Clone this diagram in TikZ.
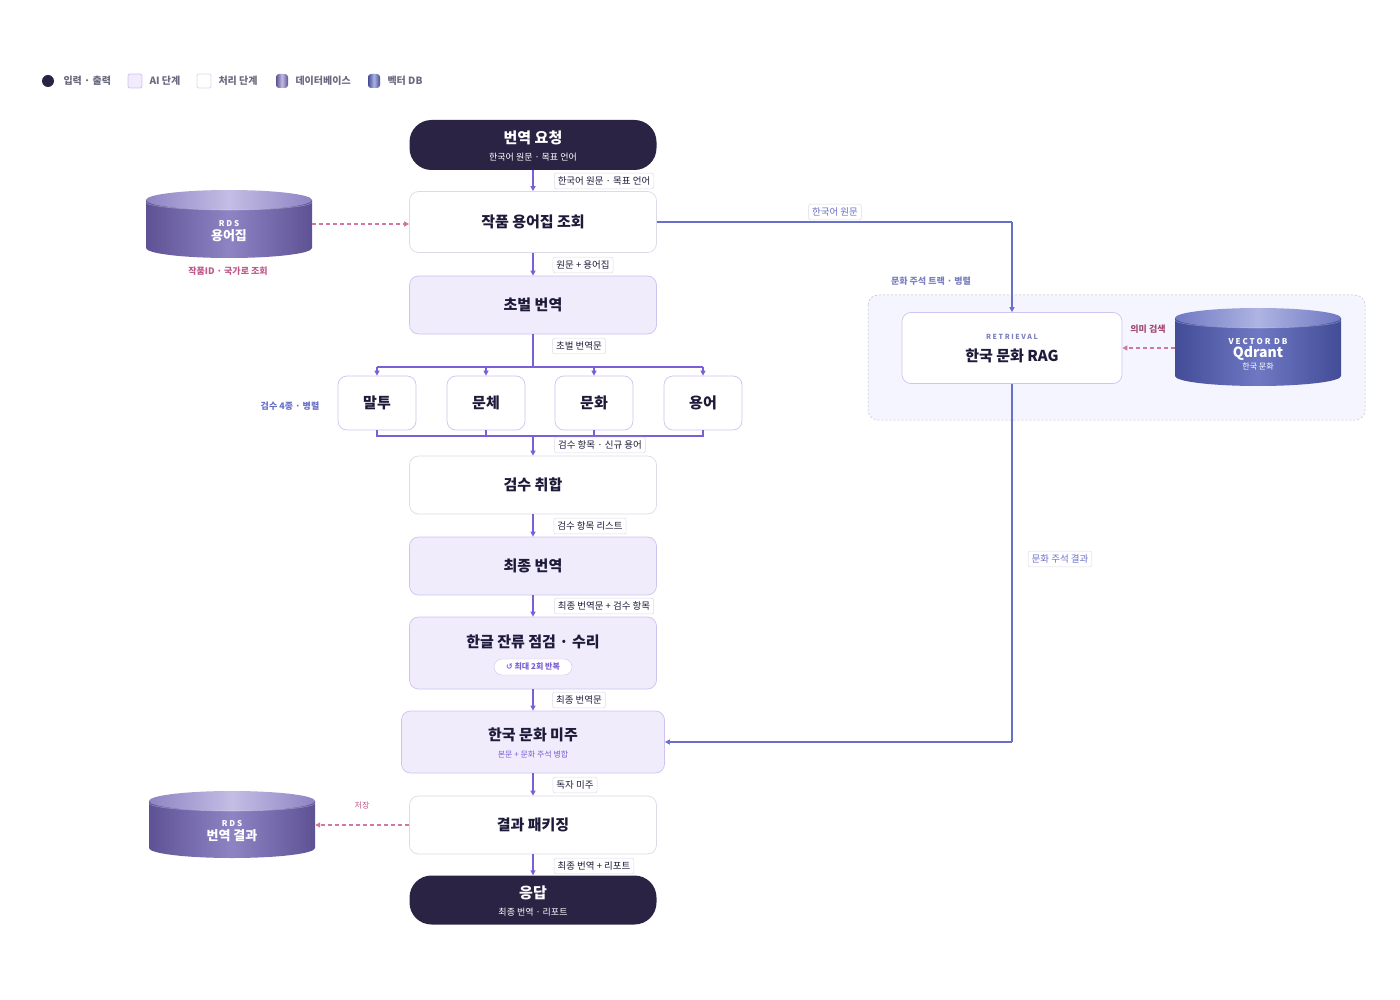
\documentclass[tikz,border=0pt]{standalone}
\usepackage{fontspec}
\setmainfont{Noto Sans CJK KR}
\newfontfamily\symf{DejaVu Sans}
\usetikzlibrary{arrows.meta,positioning}
\definecolor{ink}{HTML}{2A2344}
\definecolor{lav}{HTML}{F0ECFC}
\definecolor{lavb}{HTML}{CFC3F0}
\definecolor{grayb}{HTML}{DCDAE8}
\definecolor{flow}{HTML}{7A5FD6}
\definecolor{blu}{HTML}{6A70C8}
\definecolor{pink}{HTML}{C0588A}
\definecolor{lbl}{HTML}{7B7FC0}
\definecolor{txt}{HTML}{1E1B3A}
\definecolor{leg}{HTML}{6A6A80}
\definecolor{pd}{HTML}{5E5294}
\definecolor{pm}{HTML}{8E84C4}
\definecolor{pl}{HTML}{C4BDE4}
\definecolor{bd}{HTML}{434C96}
\definecolor{bm}{HTML}{6F78C2}
\definecolor{bli}{HTML}{AEB4E2}
\tikzset{x=1pt,y=-1pt,
 box/.style={draw=grayb,fill=white,rounded corners=9pt,line width=0.7pt,text=txt,font=\fontsize{15}{18}\selectfont\bfseries,align=center},
 ai/.style={box,fill=lav,draw=lavb},
 rev/.style={box,draw=lavb,rounded corners=9pt},
 term/.style={fill=ink,rounded corners=22pt,text=white,font=\fontsize{15}{18}\selectfont\bfseries,align=center},
 tag/.style={draw=grayb,fill=white,rounded corners=2pt,font=\fontsize{9.5}{11}\selectfont,text=txt,inner sep=3.5pt,line width=0.5pt},
 flw/.style={draw=flow,line width=1.4pt,-{Triangle[length=5pt,width=5pt]}},
 fl/.style={draw=flow,line width=1.4pt},
 bl/.style={draw=blu,line width=1.3pt},
 bla/.style={bl,-{Triangle[length=5pt,width=5pt]}},
 dsh/.style={draw=pink!80,line width=1.2pt,dash pattern=on 4pt off 3pt,-{Triangle[length=5pt,width=5pt]}},
 sub/.style={font=\fontsize{9}{10}\selectfont},
}
\newcommand{\dbcyl}[9]{% name cx ty by hw dark mid light text
 \shade[left color=#6,right color=#6,middle color=#7] (#2-#5,#3) -- (#2-#5,#4) arc[start angle=180,end angle=360,x radius=#5,y radius=-10] -- (#2+#5,#3) -- cycle;
 \shade[left color=#7,right color=#7,middle color=#8] (#2,#3) ellipse[x radius=#5,y radius=10];
 \draw[white,opacity=.3,line width=.6pt] (#2-#5,#3+2) arc[start angle=180,end angle=360,x radius=#5,y radius=-8];
 \node[inner sep=0,minimum width=2*#5,minimum height=#4-#3+20,text=white,align=center] (#1) at (#2,{(#3+#4)/2+7}) {#9};
}
\begin{document}
\begin{tikzpicture}
\useasboundingbox (0,0) rectangle (1400,1000);
% legend
\fill[ink] (48,81) circle[radius=6];
\node[anchor=west,text=leg,font=\fontsize{10}{12}\selectfont\bfseries] (l1) at (60,81) {입력 · 출력};
\draw[fill=lav,rounded corners=2pt,line width=.8pt,draw=lavb] (128,74) rectangle (142,88);
\node[anchor=west,text=leg,font=\fontsize{10}{12}\selectfont\bfseries] (l2) at (146,81) {AI 단계};
\draw[grayb,fill=white,rounded corners=2pt,line width=.8pt] (197,74) rectangle (211,88);
\node[anchor=west,text=leg,font=\fontsize{10}{12}\selectfont\bfseries] (l3) at (215,81) {처리 단계};
\shade[left color=pd,right color=pd,middle color=pl,rounded corners=3pt] (276,74) rectangle (288,88);
\node[anchor=west,text=leg,font=\fontsize{10}{12}\selectfont\bfseries] (l4) at (292,81) {데이터베이스};
\shade[left color=bd,right color=bd,middle color=bli,rounded corners=3pt] (368,74) rectangle (380,88);
\node[anchor=west,text=leg,font=\fontsize{10}{12}\selectfont\bfseries] (l5) at (384,81) {벡터 DB};

% track region
\draw[black!25,fill=blue!4,dash pattern=on 2pt off 2pt,rounded corners=10pt,line width=.5pt] (868,295) rectangle (1365,420);
\node[text=lbl,font=\fontsize{9}{10}\selectfont\bfseries] (trk) at (931,281) {문화 주석 트랙 · 병렬};

% main column
\node[term,minimum width=247pt,minimum height=50pt] (req) at (533,145) {};
\node[text=white,font=\fontsize{15}{18}\selectfont\bfseries] (reqt) at (533,138) {번역 요청};
\node[text=white,sub] (reqs) at (533,157) {한국어 원문 · 목표 언어};
\node[box,minimum width=247pt,minimum height=61pt] (gl) at (533,222) {작품 용어집 조회};
\node[ai,minimum width=247pt,minimum height=58pt] (draft) at (533,305) {초벌 번역};
\foreach \n/\t/\x in {m1/말투/377,m2/문체/486,m3/문화/594,m4/용어/703}
  \node[rev,minimum width=78pt,minimum height=54pt] (\n) at (\x,403) {\t};
\node[text=blu,font=\fontsize{9}{10}\selectfont\bfseries] (par) at (290,406) {검수 4종 · 병렬};
\node[box,minimum width=247pt,minimum height=58pt] (agg) at (533,485) {검수 취합};
\node[ai,minimum width=247pt,minimum height=58pt] (fin) at (533,566) {최종 번역};
\node[ai,minimum width=247pt,minimum height=72pt] (han) at (533,653) {};
\node[text=txt,font=\fontsize{15}{18}\selectfont\bfseries] (hant) at (533,642) {한글 잔류 점검 · 수리};
\node[draw=lavb,fill=white,rounded corners=8pt,text=flow,font=\fontsize{8}{9}\selectfont\bfseries,minimum width=78pt,minimum height=16pt,inner sep=1pt] (loop) at (533,667) {{\symf ↺} 최대 2회 반복};
\node[ai,minimum width=263pt,minimum height=62pt] (note) at (533,742) {};
\node[text=txt,font=\fontsize{15}{18}\selectfont\bfseries] (notet) at (533,735) {한국 문화 미주};
\node[text=flow,font=\fontsize{8}{9}\selectfont] (notes) at (533,754) {본문 + 문화 주석 병합};
\node[box,minimum width=247pt,minimum height=58pt] (pack) at (533,825) {결과 패키징};
\node[term,minimum width=247pt,minimum height=49pt] (resp) at (533,900) {};
\node[text=white,font=\fontsize{15}{18}\selectfont\bfseries] (respt) at (533,893) {응답};
\node[text=white,sub] (resps) at (533,912) {최종 번역 · 리포트};

% main arrows
\draw[flw] (req) -- (gl);
\draw[flw] (gl) -- (draft);
\coordinate (br) at (533,367);
\draw[fl] (draft) -- (br);
\draw[fl] (377,367) -- (703,367);
\foreach \n/\x in {m1/377,m2/486,m3/594,m4/703} \draw[flw] (\x,367) -- (\n);
\coordinate (mg) at (533,436);
\foreach \n/\x in {m1/377,m2/486,m3/594,m4/703} \draw[fl] (\n.south) |- (mg);
\draw[flw] (mg) -- (agg);
\draw[flw] (agg) -- (fin);
\draw[flw] (fin) -- (han);
\draw[flw] (han) -- (note);
\draw[flw] (note) -- (pack);
\draw[flw] (pack) -- (resp);

% tags
\node[tag] (t1) at (604,181) {한국어 원문 · 목표 언어};
\node[tag] (t2) at (583,265) {원문 + 용어집};
\node[tag] (t3) at (579,346) {초벌 번역문};
\node[tag] (t4) at (600,445) {검수 항목 · 신규 용어};
\node[tag] (t5) at (590,526) {검수 항목 리스트};
\node[tag] (t6) at (604,606) {최종 번역문 + 검수 항목};
\node[tag] (t7) at (579,700) {최종 번역문};
\node[tag] (t8) at (575,785) {독자 미주};
\node[tag] (t9) at (594,866) {최종 번역 + 리포트};

% databases
\dbcyl{gdb}{229}{200}{248}{83}{pd}{pm}{pl}{{\fontsize{8}{10}\selectfont\bfseries R D S}\\[2pt]{\fontsize{13}{15}\selectfont\bfseries 용어집}}
\node[text=pink,font=\fontsize{9}{10}\selectfont\bfseries] (gdbl) at (228,271) {작품ID · 국가로 조회};
\draw[dsh] (gdb.east |- 0,224) -- (gl.west |- 0,224);
\dbcyl{rdb}{232}{801}{848}{83}{pd}{pm}{pl}{{\fontsize{8}{10}\selectfont\bfseries R D S}\\[2pt]{\fontsize{13}{15}\selectfont\bfseries 번역 결과}}
\draw[dsh] (pack.west |- 0,825) -- (rdb.east |- 0,825);
\node[text=pink,font=\fontsize{8}{9}\selectfont] (save) at (362,806) {저장};

% RAG
\node[box,draw=lavb,minimum width=220pt,minimum height=71pt] (rag) at (1012,348) {};
\node[text=lbl,font=\fontsize{7}{8}\selectfont\bfseries] (ragk) at (1012,337) {R E T R I E V A L};
\node[text=txt,font=\fontsize{15}{18}\selectfont\bfseries] (ragt) at (1012,356) {한국 문화 RAG};
\dbcyl{qd}{1258}{318}{376}{83}{bd}{bm}{bli}{{\fontsize{8}{10}\selectfont\bfseries V E C T O R\ \ D B}\\[1pt]{\fontsize{14}{17}\selectfont\bfseries Qdrant}\\{\fontsize{8}{10}\selectfont 한국 문화}}
\draw[dsh] (qd.west |- 0,348) -- (rag.east |- 0,348);
\node[text=pink!85!black,font=\fontsize{9}{10}\selectfont\bfseries] (sem) at (1148,329) {의미 검색};

\coordinate (c1) at (1012,222);
\draw[bl] (gl.east) -- (c1);
\draw[bla] (c1) -- (rag.north);
\coordinate (c2) at (1012,742);
\draw[bl] (rag.south) -- (c2);
\draw[bla] (c2) -- (note.east);
\node[tag,text=blu] (t10) at (835,212) {한국어 원문};
\node[tag,text=blu] (t11) at (1060,559) {문화 주석 결과};
\end{tikzpicture}
\end{document}
